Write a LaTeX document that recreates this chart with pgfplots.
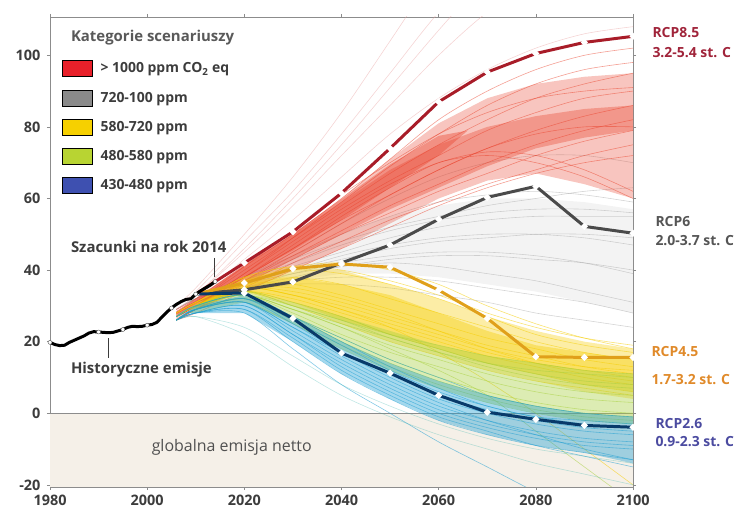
\documentclass[border=0pt]{standalone}
\usepackage{pgfplots}
\pgfplotsset{compat=1.18}
\usepackage{pgfplotstable}
\usepackage{fontspec}
\setmainfont{Open Sans}

\definecolor{axgray}{HTML}{8C8C8C}
\definecolor{ticktxt}{HTML}{3C3C3C}
\definecolor{beige}{HTML}{F5F0E8}
\definecolor{redS}{HTML}{E8402A}
\definecolor{pinkF}{HTML}{E8A0A0}
\definecolor{grayS}{HTML}{A0A0A0}
\definecolor{yelS}{HTML}{F5CC00}
\definecolor{grnS}{HTML}{A8D040}
\definecolor{bluS}{HTML}{1E9ED2}
\definecolor{tealS}{HTML}{2CB0A8}
\definecolor{legred}{HTML}{E8202A}
\definecolor{leggray}{HTML}{8A8A8A}
\definecolor{legyel}{HTML}{F6D000}
\definecolor{leggrn}{HTML}{B8D432}
\definecolor{legblu}{HTML}{3E50B0}
\definecolor{rcpEight}{HTML}{A81C28}
\definecolor{rcpSix}{HTML}{4A4A4A}
\definecolor{rcpFour}{HTML}{E0A01A}
\definecolor{rcpTwo}{HTML}{083A6A}
\definecolor{lblEight}{HTML}{A0243A}
\definecolor{lblSix}{HTML}{555555}
\definecolor{lblFour}{HTML}{E08A2A}
\definecolor{lblTwo}{HTML}{4B4BA0}

% red scenarios (r2,r3,r4,r17,r18 faint, steep)
\pgfplotstableread{
yr r1 r2 r3 r4 r5 r6 r7 r8 r9 r10 r11 r12 r13 r14 r15 r16 r17 r18
2006 29 30 29 28 28 27 27 27 26 26 27 26 27 28 26 27 30 29
2010 32 34 33 32 31 30 30 30 29 29 30 29 30 31 28 30 35 33
2020 41 48 45 43 40 39 38 37 36 35 38 37 39 41 34 38 50 46
2030 50 62 58 54 49 48 46 44 43 42 47 45 49 51 40 46 66 60
2040 60 78 72 66 58 57 54 51 50 48 56 53 59 61 46 55 84 75
2050 71 95 86 78 67 65 61 58 56 54 64 61 69 70 52 63 104 91
2060 82 112 100 88 75 72 68 64 62 59 70 68 78 78 58 70 124 107
2070 90 125 112 96 82 79 74 70 67 64 73 74 86 84 63 72 140 122
2080 96 135 120 102 88 84 79 75 72 68 72 78 92 88 67 70 150 135
2090 100 142 126 106 92 88 83 79 76 72 68 80 96 90 70 66 160 145
2100 102 148 130 108 95 90 86 82 79 75 62 80 98 91 72 60 170 150
}\tabR

\pgfplotstableread{
yr g1 g2 g3 g4 g5 g6 g7 g8 g9 g10 g11 g12
2006 29 28 28 28 29 28 29 28 28 29 28 28
2010 32 31 31 31 32 31 32 31 31 32 31 31
2020 37 36 35 36 38 35 37 36 35 38 36 34
2030 42 40 38 39 44 37 43 41 39 45 40 36
2040 47 44 41 41 50 38 48 45 42 53 43 36
2050 51 47 43 42 55 38 52 49 44 60 46 35
2060 54 49 44 41 59 37 55 52 45 66 48 33
2070 56 50 44 39 61 35 58 54 45 70 49 31
2080 57 50 43 37 62 33 60 55 44 72 50 28
2090 57 49 42 34 61 31 62 55 42 72 50 26
2100 56 47 40 31 59 28 63 55 39 70 49 24
}\tabG

\pgfplotstableread{
yr y1 y2 y3 y4 y5 y6 y7 y8 y9 y10 y11 y12 y13
2006 28 28 27 27 27 27 28 27 27 28 27 27 27
2010 31 31 30 30 30 30 31 30 30 31 30 30 30
2020 38 37 36 35 35 34 37 35 34 38 35 34 35
2030 41 38 36 34 33 32 40 35 31 41 33 30 33
2040 40 36 33 31 29 28 39 32 27 42 30 25 29
2050 37 32 29 27 25 24 36 28 22 40 26 20 24
2060 33 28 25 23 21 20 32 23 18 36 22 16 17
2070 28 24 21 19 17 16 27 18 14 30 18 12 9
2080 24 20 18 16 14 13 22 14 11 25 15 9 0
2090 21 17 15 13 12 10 19 11 8 21 13 7 -10
2100 19 15 13 11 10 8 17 9 6 18 12 5 -20
}\tabY

\pgfplotstableread{
yr n1 n2 n3 n4 n5 n6 n7 n8 n9 n10 n11
2006 27 27 27 26 27 26 27 26 27 26 27
2010 30 30 30 29 30 29 30 29 30 29 30
2020 34 33 33 32 34 32 33 32 33 31 33
2030 31 29 28 27 30 26 29 27 30 25 29
2040 27 24 22 21 26 19 25 20 26 18 24
2050 22 19 17 15 21 13 21 14 22 12 18
2060 18 15 13 10 17 8 17 9 19 7 12
2070 14 11 9 6 13 4 14 5 16 3 5
2080 11 8 6 3 10 1 12 2 14 0 -5
2090 9 6 4 1 8 -1 11 0 12 -2 -15
2100 8 5 3 0 7 -2 10 -1 11 -3 -25
}\tabN

\pgfplotstableread{
yr b1 b2 b3 b4 b5 b6 b7 b8 b9 b10 b11 b12 b13 b14
2006 27 26 26 26 26 27 26 26 27 26 26 26 26 26
2010 30 29 29 28 28 30 29 28 29 28 28 29 27 27
2020 33 32 31 30 29 33 31 29 32 30 28 31 24 22
2030 27 25 23 22 20 27 24 21 26 22 18 24 16 13
2040 20 17 15 13 11 21 17 12 19 14 8 16 8 5
2050 13 10 8 6 4 15 11 5 12 7 0 9 2 -1
2060 7 4 2 0 -2 10 5 -1 6 1 -8 3 -3 -6
2070 2 0 -2 -4 -6 5 1 -5 2 -3 -15 -2 -7 -10
2080 -1 -3 -5 -7 -9 2 -2 -9 -1 -6 -22 -6 -10 -14
2090 -3 -5 -7 -9 -11 0 -4 -12 -2 -8 -28 -10 -12 -17
2100 -4 -6 -8 -10 -13 -1 -5 -15 -3 -9 -33 -13 -14 -20
}\tabB

\begin{document}
\begin{tikzpicture}
\begin{axis}[
  name=ax, at={(0,0)}, anchor=south west,
  scale only axis, width=583bp, height=470bp,
  xmin=1980, xmax=2100, ymin=-20.6, ymax=110.7,
  xtick={1980,2000,...,2100}, ytick={-20,0,...,100},
  tick align=outside, major tick length=3bp,
  axis line style={draw=axgray, line width=0.8pt},
  tick style={draw=axgray, line width=0.6pt},
  /pgf/number format/assume math mode=true,
  /pgf/number format/1000 sep={},
  ticklabel style={font=\fontsize{14.5}{14.5}\selectfont\bfseries, text=ticktxt},
  yticklabel style={xshift=-3bp},
  xticklabel style={yshift=-2bp},
  clip mode=individual,
  legend style={at={(0.0206,0.908)}, anchor=north west, draw=none, fill=none,
    inner sep=0pt, row sep=12.8bp,
    font=\fontsize{14}{14}\selectfont\bfseries, text=ticktxt,
    nodes={inner sep=1bp},
    /tikz/every odd column/.append style={column sep=7bp}},
  legend cell align=left,
  legend image code/.code={\fill[#1] (0bp,-8bp) rectangle (30bp,8bp);},
]
% net negative region
\addplot[fill=beige, draw=none, forget plot] coordinates {(1980,0) (2100,0) (2100,-25) (1980,-25)} -- cycle;
\addplot[axgray, line width=0.6pt, forget plot] coordinates {(1980,0) (2100,0)};

% gray category
\addplot[fill=grayS, fill opacity=0.12, draw=none, forget plot] coordinates {
 (2008,30) (2010,32) (2020,38) (2030,44) (2040,50) (2050,55) (2060,58) (2070,60) (2080,60) (2090,59) (2100,57)
 (2100,28) (2090,31) (2080,34) (2070,36) (2060,38) (2050,39) (2040,39) (2030,37) (2020,34) (2010,30)} -- cycle;
\pgfplotsinvokeforeach{1,2,3,4,5,6,7,8,9,10,11,12}{
  \addplot[grayS, opacity=0.45, line width=0.6pt, smooth, forget plot] table[x=yr, y=g#1] {\tabG};
}

% red category
\pgfplotsinvokeforeach{2,3,4,17,18}{
  \addplot[pinkF, opacity=0.45, line width=0.6pt, smooth, forget plot] table[x=yr, y=r#1] {\tabR};
}
\addplot[fill=redS, fill opacity=0.3, draw=none, forget plot] coordinates {
 (2006,28) (2010,31.5) (2020,41) (2030,50) (2040,60) (2050,71) (2060,81) (2070,88) (2080,92) (2090,94) (2100,95)
 (2100,60) (2090,64) (2080,67) (2070,65) (2060,60) (2050,53) (2040,46) (2030,40) (2020,34) (2010,29) (2006,26)} -- cycle;
\addplot[fill=redS, fill opacity=0.35, draw=none, forget plot] coordinates {
 (2006,28.5) (2010,32) (2020,41.5) (2030,50) (2040,59) (2050,68) (2060,75) (2070,80) (2080,83) (2090,85) (2100,86)
 (2100,79) (2090,77) (2080,74) (2070,69) (2060,63) (2050,57) (2040,50) (2030,43) (2020,36) (2010,30) (2006,27)} -- cycle;
\addplot[fill=redS, fill opacity=0.4, draw=none, forget plot] coordinates {
 (2006,28.5) (2010,32) (2020,41.5) (2030,50.2) (2040,59.8) (2050,69.5) (2060,77.5) (2066,79)
 (2060,72) (2050,63) (2040,54) (2030,45.5) (2020,38) (2010,30.5) (2006,27.5)} -- cycle;
\pgfplotsinvokeforeach{1,5,6,7,8,9,10,11,12,13,14,15,16}{
  \addplot[redS, opacity=0.5, line width=0.6pt, smooth, forget plot] table[x=yr, y=r#1] {\tabR};
}

% yellow category
\addplot[fill=yelS, fill opacity=0.35, draw=none, forget plot] coordinates {
 (2008,29) (2010,31) (2020,38) (2030,41) (2040,40) (2050,36) (2060,32) (2070,27) (2080,23) (2090,20) (2100,18)
 (2100,4) (2090,6) (2080,9) (2070,12) (2060,16) (2050,20) (2040,25) (2030,30) (2020,34) (2010,29)} -- cycle;
\addplot[fill=yelS, fill opacity=0.4, draw=none, forget plot] coordinates {
 (2010,30.5) (2020,37) (2030,38) (2040,36) (2050,33) (2060,28) (2070,23) (2080,19) (2090,17) (2100,15)
 (2100,6) (2090,8) (2080,11) (2070,14) (2060,18) (2050,22) (2040,26) (2030,31) (2020,34) (2010,29.5)} -- cycle;
\pgfplotsinvokeforeach{1,2,3,4,5,6,7,8,9,10,11,12,13}{
  \addplot[yelS, opacity=0.55, line width=0.6pt, smooth, forget plot] table[x=yr, y=y#1] {\tabY};
}

% green category
\addplot[fill=grnS, fill opacity=0.4, draw=none, forget plot] coordinates {
 (2008,28) (2010,30) (2020,34) (2030,31) (2040,27) (2050,23) (2060,19) (2070,16) (2080,14) (2090,12) (2100,11)
 (2100,-3) (2090,-2) (2080,0) (2070,3) (2060,7) (2050,12) (2040,18) (2030,25) (2020,31) (2010,28)} -- cycle;
\pgfplotsinvokeforeach{1,2,3,4,5,6,7,8,9,10,11}{
  \addplot[grnS, opacity=0.55, line width=0.6pt, smooth, forget plot] table[x=yr, y=n#1] {\tabN};
}

% blue category
\addplot[fill=bluS, fill opacity=0.4, draw=none, forget plot] coordinates {
 (2008,28) (2010,30) (2020,33) (2030,27) (2040,20) (2050,14) (2060,9) (2070,5) (2080,2) (2090,0) (2100,-1)
 (2100,-14) (2090,-11) (2080,-9) (2070,-6) (2060,-2) (2050,4) (2040,11) (2030,20) (2020,28) (2010,28)} -- cycle;
\pgfplotsinvokeforeach{1,2,3,4,5,6,7,8,9,10,11,12}{
  \addplot[bluS, opacity=0.55, line width=0.6pt, smooth, forget plot] table[x=yr, y=b#1] {\tabB};
}
\pgfplotsinvokeforeach{13,14}{
  \addplot[tealS, opacity=0.3, line width=0.6pt, smooth, forget plot] table[x=yr, y=b#1] {\tabB};
}

% RCP pathways
\addplot[rcpSix, line width=3pt, mark=*, mark size=1.5pt, mark options={fill=white, draw=white}, forget plot]
 coordinates {(2010,33.3) (2020,34.5) (2030,36.7) (2040,42) (2050,47) (2060,54.2) (2070,60.3) (2080,63.4) (2090,52.2) (2100,50.3)};
\addplot[rcpFour, line width=3pt, mark=*, mark size=1.5pt, mark options={fill=white, draw=white}, forget plot]
 coordinates {(2010,33.3) (2020,36.4) (2030,40.4) (2040,41.7) (2050,40.8) (2060,34.4) (2070,26.5) (2080,15.8) (2090,15.6) (2100,15.6)};
\addplot[rcpTwo, line width=3pt, mark=*, mark size=1.5pt, mark options={fill=white, draw=white}, forget plot]
 coordinates {(2010,33.3) (2020,33.6) (2030,26.5) (2040,16.8) (2050,11.2) (2060,5) (2070,0.3) (2080,-1.7) (2090,-3.4) (2100,-3.9)};
\addplot[rcpEight, line width=3pt, mark=*, mark size=1.5pt, mark options={fill=white, draw=white}, forget plot]
 coordinates {(2010,33.3) (2020,42) (2030,50.7) (2040,61.5) (2050,74) (2060,87) (2070,95.3) (2080,100.5) (2090,103.6) (2100,105.3)};

% historical emissions
\addplot[black, line width=3pt, forget plot]
 coordinates {(1980,19.8) (1981,19.2) (1982,18.9) (1983,19.0) (1984,19.8) (1985,20.4) (1986,21.0) (1987,21.6)
 (1988,22.4) (1989,22.8) (1990,22.7) (1991,22.6) (1992,22.5) (1993,22.6) (1994,23.0) (1995,23.4) (1996,24.0)
 (1997,24.3) (1998,24.2) (1999,24.3) (2000,24.6) (2001,24.8) (2002,25.4) (2003,26.8) (2004,28.2) (2005,29.4)
 (2006,30.4) (2007,31.2) (2008,31.8) (2009,32.0) (2010,33.3) (2011,34.2) (2012,35.0) (2013,35.8) (2014,36.8)};
\addplot[only marks, mark=*, mark size=2pt, mark options={fill=white, draw=black!70, line width=0.4pt}, forget plot]
 coordinates {(1980,19.8) (1990,22.7) (1995,23.4) (2000,24.6) (2005,29.4) (2010,33.3) (2014,36.8)};

% legend
\addlegendimage{fill=legred}
\addlegendentry{> 1000 ppm CO\textsubscript{2} eq}
\addlegendimage{fill=leggray}
\addlegendentry{720-100 ppm}
\addlegendimage{fill=legyel}
\addlegendentry{580-720 ppm}
\addlegendimage{fill=leggrn}
\addlegendentry{480-580 ppm}
\addlegendimage{fill=legblu}
\addlegendentry{430-480 ppm}

% annotations
\node[anchor=west, text=ticktxt!85, font=\fontsize{15}{15}\selectfont\bfseries] at (axis cs:1983.6,104.9) {Kategorie scenariuszy};
\node[anchor=west, text=ticktxt, font=\fontsize{15}{15}\selectfont\bfseries] at (axis cs:1983.6,46.5) {Szacunki na rok 2014};
\draw[ticktxt, line width=0.6pt] (axis cs:2013.9,43.4) -- (axis cs:2013.9,38.2);
\node[anchor=west, text=ticktxt, font=\fontsize{15}{15}\selectfont\bfseries] at (axis cs:1983.6,12.2) {Historyczne emisje};
\draw[ticktxt, line width=0.6pt] (axis cs:1991.9,21) -- (axis cs:1991.9,15.5);
\node[text=ticktxt!90, font=\fontsize{16}{16}\selectfont] at (axis cs:2017.4,-9.6) {globalna emisja netto};

% right-side labels
\node[anchor=west, align=left, text=lblEight, font=\fontsize{14}{20}\selectfont\bfseries, xshift=16bp] at (axis cs:2100,103.5) {RCP8.5\\3.2-5.4 st. C};
\node[anchor=west, align=left, text=lblSix, font=\fontsize{14}{19}\selectfont\bfseries, xshift=19bp] at (axis cs:2100,50.8) {RCP6\\2.0-3.7 st. C};
\node[anchor=west, text=lblFour, font=\fontsize{14}{14}\selectfont\bfseries, xshift=15bp] at (axis cs:2100,17.2) {RCP4.5};
\node[anchor=west, text=lblFour, font=\fontsize{14}{14}\selectfont\bfseries, xshift=15bp] at (axis cs:2100,9.4) {1.7-3.2 st. C};
\node[anchor=west, align=left, text=lblTwo, font=\fontsize{14}{18}\selectfont\bfseries, xshift=19bp] at (axis cs:2100,-5.4) {RCP2.6\\0.9-2.3 st. C};
\end{axis}
\pgfresetboundingbox
\path[use as bounding box] (-50bp,-21bp) rectangle (692bp,487bp);
\end{tikzpicture}
\end{document}
